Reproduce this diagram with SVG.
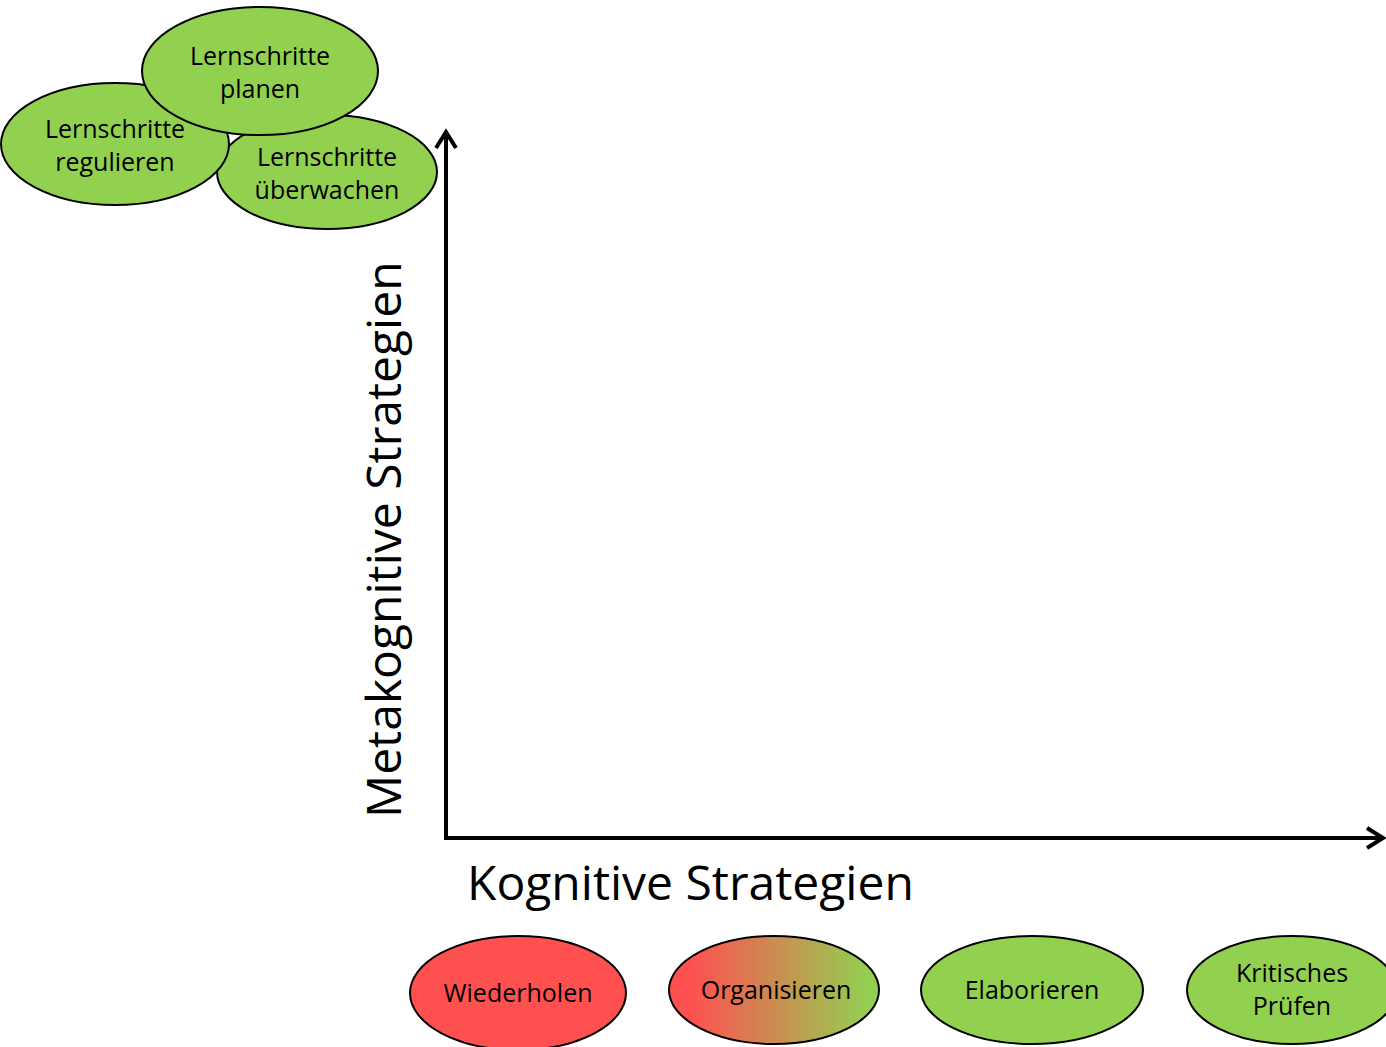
<svg xmlns="http://www.w3.org/2000/svg" width="1386" height="1047" viewBox="0 0 1386 1047">
<defs>
<style>
.g{fill:#92D050;stroke:#000;stroke-width:2}
.r{fill:#FF5050;stroke:#000;stroke-width:2}
.t{font-family:"Open Sans","Liberation Sans",sans-serif;font-size:25px;fill:#000;text-anchor:middle}
.ax{stroke:#000;stroke-width:4;fill:none}
.lab{font-family:"Open Sans","Liberation Sans",sans-serif;font-size:48px;fill:#000}
</style>
<linearGradient id="rg" x1="0" y1="0" x2="1" y2="0">
<stop offset="0.1" stop-color="#FF5050"/>
<stop offset="0.95" stop-color="#92D050"/>
</linearGradient>
</defs>
<g id="connectors">
<line class="ax" x1="446" y1="840" x2="446" y2="132"/>
<path class="ax" d="M436,148 L446,132 L456,148"/>
<line class="ax" x1="444" y1="838" x2="1383" y2="838"/>
<path class="ax" d="M1367,828 L1383,838 L1367,848"/>
</g>
<g id="n-ueberwachen"><ellipse class="g" cx="327" cy="172" rx="110" ry="57"/><text class="t" x="327" y="166">Lernschritte</text><text class="t" x="327" y="199">überwachen</text></g>
<g id="n-regulieren"><ellipse class="g" cx="115" cy="144" rx="114" ry="61"/><text class="t" x="115" y="138">Lernschritte</text><text class="t" x="115" y="171">regulieren</text></g>
<g id="n-planen"><ellipse class="g" cx="260" cy="71" rx="118" ry="64"/><text class="t" x="260" y="65">Lernschritte</text><text class="t" x="260" y="98">planen</text></g>
<g id="label-y"><text class="lab" transform="translate(401,818) rotate(-90)">Metakognitive Strategien</text></g>
<g id="label-x"><text class="lab" x="467" y="900">Kognitive Strategien</text></g>
<g id="n-wiederholen"><ellipse class="r" cx="518" cy="993" rx="108" ry="57"/><text class="t" x="518" y="1002">Wiederholen</text></g>
<g id="n-organisieren"><ellipse cx="774" cy="990" rx="105" ry="54" fill="url(#rg)" stroke="#000" stroke-width="2"/><text class="t" x="776" y="999">Organisieren</text></g>
<g id="n-elaborieren"><ellipse class="g" cx="1032" cy="990" rx="111" ry="54"/><text class="t" x="1032" y="999">Elaborieren</text></g>
<g id="n-kritisch"><ellipse class="g" cx="1292" cy="990" rx="105" ry="54"/><text class="t" x="1292" y="982">Kritisches</text><text class="t" x="1292" y="1015">Prüfen</text></g>
</svg>
